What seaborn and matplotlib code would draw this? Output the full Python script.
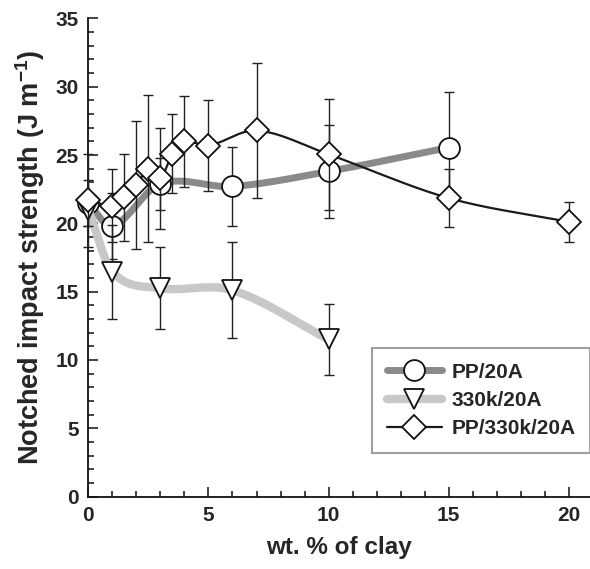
import numpy as np
import pandas as pd
import matplotlib
matplotlib.use("Agg")
import matplotlib.pyplot as plt
from matplotlib.ticker import MultipleLocator
from matplotlib.lines import Line2D
import seaborn as sns

# ---- data ----
pp_x = [0, 1, 3, 6, 10, 15]
pp_y = [21.5, 19.8, 22.9, 22.7, 23.8, 25.55]
pp_err = [1.7, 2.4, 1.9, 2.9, 3.4, 4.05]

k330_x = [0, 1, 3, 6, 10]
k330_y = [21.0, 16.45, 15.25, 15.1, 11.5]
k330_err = [1.2, 3.45, 3.0, 3.5, 2.6]

mix_x = [0, 1, 1.5, 2, 2.5, 3, 3.5, 4, 5, 7, 10, 15, 20]
mix_y = [21.7, 21.3, 21.9, 22.8, 24.0, 23.3, 25.1, 26.0, 25.7, 26.8, 25.05, 21.85, 20.1]
mix_err = [3.4, 2.7, 3.2, 4.7, 5.4, 3.7, 2.9, 3.35, 3.35, 4.95, 4.05, 2.1, 1.5]

labels = ["PP/20A", "330k/20A", "PP/330k/20A"]
x_label = "wt. % of clay"
y_label = r"Notched impact strength (J m$^{\mathbf{-1}}$)"


def smooth(xs, ys, n=40):
    """Cubic Hermite curve through the points (Catmull-Rom style tangents)."""
    xs = np.asarray(xs, float)
    ys = np.asarray(ys, float)
    m = np.empty_like(ys)
    m[0] = (ys[1] - ys[0]) / (xs[1] - xs[0])
    m[-1] = (ys[-1] - ys[-2]) / (xs[-1] - xs[-2])
    m[1:-1] = (ys[2:] - ys[:-2]) / (xs[2:] - xs[:-2])
    ox, oy = [], []
    for i in range(len(xs) - 1):
        h = xs[i + 1] - xs[i]
        t = np.linspace(0, 1, n, endpoint=False)
        h00 = 2 * t**3 - 3 * t**2 + 1
        h10 = t**3 - 2 * t**2 + t
        h01 = -2 * t**3 + 3 * t**2
        h11 = t**3 - t**2
        ox.append(xs[i] + t * h)
        oy.append(h00 * ys[i] + h10 * h * m[i] + h01 * ys[i + 1] + h11 * h * m[i + 1])
    ox.append([xs[-1]])
    oy.append([ys[-1]])
    return np.concatenate(ox), np.concatenate(oy)


sns.set_style("ticks")
plt.rcParams["font.family"] = ["Liberation Sans", "DejaVu Sans"]
plt.rcParams["font.weight"] = "bold"
plt.rcParams["mathtext.fontset"] = "custom"
plt.rcParams["mathtext.rm"] = "Liberation Sans:bold"
plt.rcParams["mathtext.bf"] = "Liberation Sans:bold"
plt.rcParams["mathtext.it"] = "Liberation Sans:bold"

fig = plt.figure(figsize=(5.90, 5.69), dpi=100)
ax = fig.add_axes([0.1497, 0.1274, 0.8503, 0.8401])

styles = [
    dict(x=pp_x, y=pp_y, e=pp_err, color="#8a8a8a", lw=5.0, marker="o", ms=15),
    dict(x=k330_x, y=k330_y, e=k330_err, color="#c8c8c8", lw=6.0, marker="v", ms=15),
    dict(x=mix_x, y=mix_y, e=mix_err, color="#1a1a1a", lw=1.6, marker="D", ms=12.5),
]

z = 2
for s in styles:
    sx, sy = smooth(s["x"], s["y"])
    sns.lineplot(x=sx, y=sy, ax=ax, color=s["color"], lw=s["lw"], sort=False,
                 estimator=None, zorder=z, solid_capstyle="butt")
    eb = ax.errorbar(s["x"], s["y"], yerr=s["e"], fmt="none", ecolor="#222222",
                     elinewidth=1.0, capsize=3.8, capthick=1.0, zorder=z + 1)
    for art in eb.lines[1] + eb.lines[2]:
        art.set_clip_on(False)
    ax.plot(s["x"], s["y"], ls="none", marker=s["marker"], ms=s["ms"],
            mfc="white", mec="#111111", mew=1.3, zorder=z + 2, clip_on=False)
    z += 3

ax.set_xlim(0, 20.88)
ax.set_ylim(0, 35)
ax.xaxis.set_major_locator(MultipleLocator(5))
ax.xaxis.set_minor_locator(MultipleLocator(1))
ax.yaxis.set_major_locator(MultipleLocator(5))
ax.yaxis.set_minor_locator(MultipleLocator(1))
ax.tick_params(which="both", direction="in", width=1.1, color="#111111")
ax.tick_params(which="major", length=7.5, labelsize=15, pad=7)
ax.tick_params(which="minor", length=4.2)
for lab in ax.get_xticklabels() + ax.get_yticklabels():
    lab.set_fontweight("bold")

for side in ["top", "right"]:
    ax.spines[side].set_visible(False)
for side in ["left", "bottom"]:
    ax.spines[side].set_linewidth(1.3)
    ax.spines[side].set_color("#111111")

ax.set_xlabel(x_label, fontsize=17.5, fontweight="bold", labelpad=8)
ax.set_ylabel(y_label, fontsize=19.5, fontweight="bold", labelpad=6)

handles = [
    Line2D([], [], color=s["color"], lw=s["lw"], marker=s["marker"], ms=s["ms"],
           mfc="white", mec="#111111", mew=1.3, solid_capstyle="round")
    for s in styles
]
leg = ax.legend(handles, labels, loc="lower right", bbox_to_anchor=(1.0, 0.091),
                borderaxespad=0.0,
                prop={"size": 15, "weight": "bold"}, frameon=True, fancybox=False,
                handlelength=2.65, handletextpad=0.45, borderpad=0.7,
                labelspacing=0.45)
leg.get_frame().set_edgecolor("#888888")
leg.get_frame().set_linewidth(1.5)

fig.savefig("out.png", dpi=100)
